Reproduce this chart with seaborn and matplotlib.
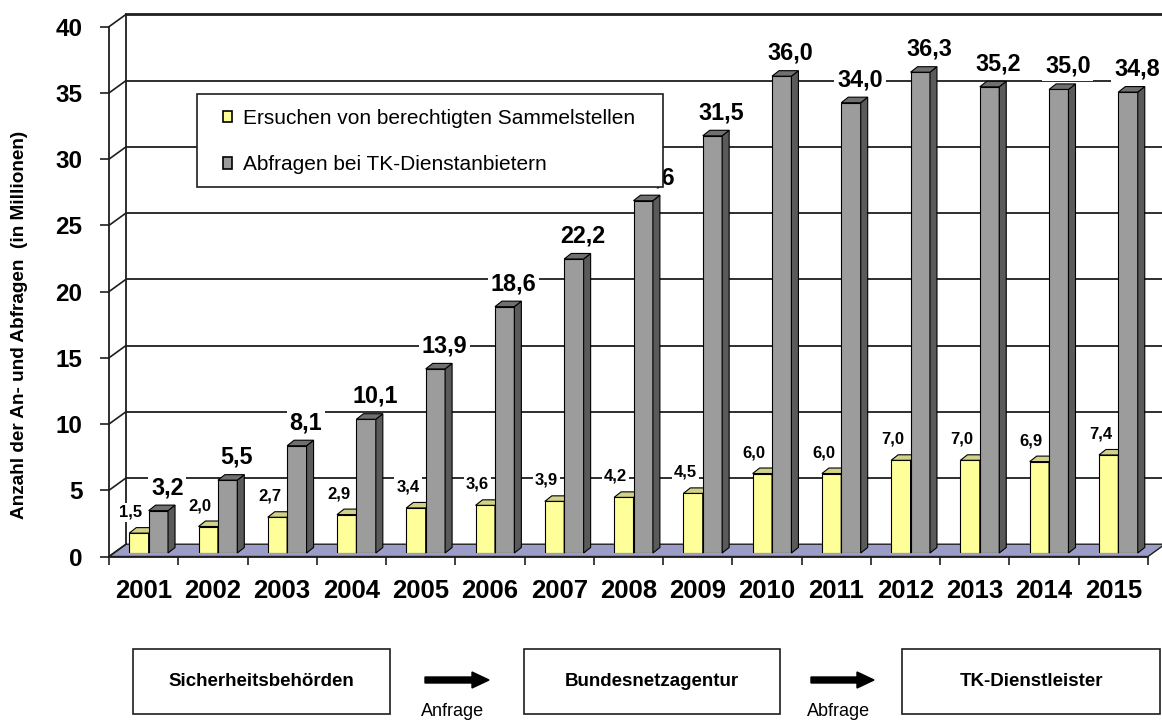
import numpy as np
import pandas as pd
import matplotlib
matplotlib.use("Agg")
import matplotlib.pyplot as plt
import seaborn as sns
from matplotlib.patches import Polygon, Rectangle, FancyArrow, Patch

# ---------------- data ----------------
years = [str(y) for y in range(2001, 2016)]
ersuchen = [1.5, 2.0, 2.7, 2.9, 3.4, 3.6, 3.9, 4.2, 4.5, 6.0, 6.0, 7.0, 7.0, 6.9, 7.4]
abfragen = [3.2, 5.5, 8.1, 10.1, 13.9, 18.6, 22.2, 26.6, 31.5, 36.0, 34.0, 36.3, 35.2, 35.0, 34.8]
series_names = ["Ersuchen von berechtigten Sammelstellen", "Abfragen bei TK-Dienstanbietern"]
y_ticks = [0, 5, 10, 15, 20, 25, 30, 35, 40]
y_label = "Anzahl der An- und Abfragen  (in Millionen)"
flow_boxes = ["Sicherheitsbehörden", "Bundesnetzagentur", "TK-Dienstleister"]
flow_arrows = ["Anfrage", "Abfrage"]

df = pd.DataFrame({
    "Jahr": years * 2,
    "Wert": ersuchen + abfragen,
    "Reihe": [series_names[0]] * len(years) + [series_names[1]] * len(years),
})

# ---------------- style ----------------
sns.set_theme(style="white")
plt.rcParams["font.family"] = ["Liberation Sans", "DejaVu Sans"]
plt.rcParams["text.color"] = "black"
plt.rcParams["xtick.color"] = "black"
plt.rcParams["ytick.color"] = "black"
plt.rcParams["axes.labelcolor"] = "black"

YEL, YEL_TOP, YEL_SIDE = "#FFFF99", "#D2D28A", "#B8B86E"
GRY, GRY_TOP, GRY_SIDE = "#9C9C9C", "#707070", "#5A5A5A"
FLOOR = "#9C9CC8"
LINE = "#1E1E1E"

W, H = 1162, 722
fig = plt.figure(figsize=(W / 100, H / 100), dpi=100)

FX0, FX1 = 109, 1148        # front plane x extent (px)
FY0, FY40 = 556.5, 26.7     # front plane y of 0 and 40 (px from top)
PXX = (FX1 - FX0) / 15.0
PXY = (FY0 - FY40) / 40.0
WALL = (17, 12.3)           # back wall offset (px right, px up)
BAR = (5, 3.5)              # bar plane offset
DEPTH = (7, 5.5)            # bar depth


def rect(dx, dy):
    return [(FX0 + dx) / W, (H - FY0 + dy) / H, (FX1 - FX0) / W, (FY0 - FY40) / H]


ax_back = fig.add_axes(rect(*WALL))
ax_bars = fig.add_axes(rect(*BAR))
ax = fig.add_axes(rect(0, 0))
for a in (ax_back, ax_bars, ax):
    a.set_xlim(-0.5, 14.5)
    a.set_ylim(0, 40)
    a.patch.set_alpha(0)

# ---------------- back wall + floor ----------------
for s in ax_back.spines.values():
    s.set_visible(False)
ax_back.spines["left"].set_visible(True)
ax_back.spines["left"].set_color(LINE)
ax_back.spines["left"].set_linewidth(1.3)
ax_back.set_xticks([])
ax_back.set_yticks([])
for v in y_ticks[1:]:
    ax_back.axhline(v, color=LINE, lw=2.0 if v == y_ticks[-1] else 1.3, clip_on=False, zorder=1)
wdx, wdy = WALL[0] / PXX, WALL[1] / PXY
floor = Polygon([(-0.5 - wdx, -wdy), (14.5 - wdx, -wdy), (14.5, 0), (-0.5, 0)],
                closed=True, facecolor=FLOOR, edgecolor=LINE, lw=1.0, clip_on=False, zorder=1)
ax_back.add_patch(floor)

# ---------------- bars ----------------
sns.barplot(data=df, x="Jahr", y="Wert", hue="Reihe", palette=[YEL, GRY], width=0.56,
            saturation=1, edgecolor="black", linewidth=0.8, legend=False, ax=ax_bars)
ax_bars.set_xlim(-0.5, 14.5)
ax_bars.set_ylim(0, 40)
ax_bars.set_axis_off()

ddx, ddy = DEPTH[0] / PXX, DEPTH[1] / PXY
for ci, (cont, tops, sides) in enumerate(zip(ax_bars.containers, [YEL_TOP, GRY_TOP], [YEL_SIDE, GRY_SIDE])):
    z = 2 + ci
    for p in cont.patches:
        p.set_zorder(z)
        x0, w, h = p.get_x(), p.get_width(), p.get_height()
        x1 = x0 + w
        top = Polygon([(x0, h), (x1, h), (x1 + ddx, h + ddy), (x0 + ddx, h + ddy)], closed=True,
                      facecolor=tops, edgecolor="black", lw=0.8, zorder=z, clip_on=False)
        side = Polygon([(x1, 0), (x1, h), (x1 + ddx, h + ddy), (x1 + ddx, ddy)], closed=True,
                       facecolor=sides, edgecolor="black", lw=0.8, zorder=z, clip_on=False)
        ax_bars.add_patch(side)
        ax_bars.add_patch(top)
        cx = x0 + w / 2
        txt = f"{h:.1f}".replace(".", ",")
        if ci == 0:
            ax_bars.text(cx - 8 / PXX, h + 21 / PXY, txt, ha="center", va="center", fontsize=12,
                         fontweight="bold", color="black", zorder=10, clip_on=False,
                         bbox=dict(facecolor="white", edgecolor="none", pad=1.5))
        else:
            ax_bars.text(cx + 9 / PXX, h + 23 / PXY, txt, ha="center", va="center", fontsize=16.8,
                         fontweight="bold", color="black", zorder=10, clip_on=False,
                         bbox=dict(facecolor="white", edgecolor="none", pad=2))

# ---------------- front axes ----------------
for s in ("top", "right"):
    ax.spines[s].set_visible(False)
for s in ("left", "bottom"):
    ax.spines[s].set_color(LINE)
    ax.spines[s].set_linewidth(1.3)
ax.set_yticks(y_ticks)
ax.set_yticklabels([str(v) for v in y_ticks], fontsize=17.5, fontweight="bold", color="black")
ax.tick_params(axis="y", which="major", direction="out", length=6.5, width=1.2, color=LINE,
               pad=12.5, left=True)
ax.set_xticks(range(len(years)))
ax.set_xticklabels(years, fontsize=18.5, fontweight="bold", color="black")
ax.set_xticks(np.arange(-0.5, len(years), 1.0), minor=True)
ax.tick_params(axis="x", which="major", length=0, pad=16, bottom=True)
ax.tick_params(axis="x", which="minor", direction="out", length=6, width=1.2, color=LINE, bottom=True)
for v in y_ticks:
    ax.plot([-0.5, -0.5 + wdx], [v, v + wdy], color=LINE, lw=1.2, clip_on=False, zorder=1)

fig.text(20 / W, 1 - 325 / H, y_label, rotation=90, ha="center", va="center",
         fontsize=13.7, fontweight="bold", color="black")

# legend (frame drawn as rectangle so it matches the original box)
frame = Rectangle((197 / W, 1 - 187 / H), 466 / W, 93 / H, transform=fig.transFigure,
                  facecolor="white", edgecolor=LINE, lw=1.2, zorder=8, clip_on=False)
ax.add_patch(frame)
handles = [Patch(facecolor=YEL, edgecolor="black", lw=1.2), Patch(facecolor=GRY, edgecolor="black", lw=1.2)]
leg = ax.legend(handles, series_names, loc="upper left", bbox_to_anchor=(223 / W, 1 - 109 / H),
                bbox_transform=fig.transFigure, frameon=False, borderpad=0, borderaxespad=0,
                fontsize=15, handlelength=0.45, handleheight=0.45, handletextpad=0.5, labelspacing=1.32)
leg.set_zorder(9)
for t in leg.get_texts():
    t.set_color("black")

# ---------------- flow diagram ----------------
axf = fig.add_axes([0, 0, 1, 1])
axf.set_xlim(0, W)
axf.set_ylim(H, 0)
axf.set_axis_off()
axf.patch.set_alpha(0)
box_x = [(133, 390), (524, 780), (902, 1160)]
for (bx0, bx1), name in zip(box_x, flow_boxes):
    axf.add_patch(Rectangle((bx0, 649), bx1 - bx0, 65, facecolor="white", edgecolor=LINE, lw=1.2))
    axf.text((bx0 + bx1) / 2, 682, name, ha="center", va="center", fontsize=13.5, fontweight="bold")
arrow_x = [(425, 489), (811, 874)]
for (a0, a1), name in zip(arrow_x, flow_arrows):
    axf.add_patch(FancyArrow(a0, 680, a1 - a0, 0, width=6, head_width=16, head_length=17,
                             length_includes_head=True, color="black"))
    axf.text((a0 + a1) / 2 - 4, 711, name, ha="center", va="center", fontsize=13)

fig.savefig("out.png", dpi=100, facecolor="white")
